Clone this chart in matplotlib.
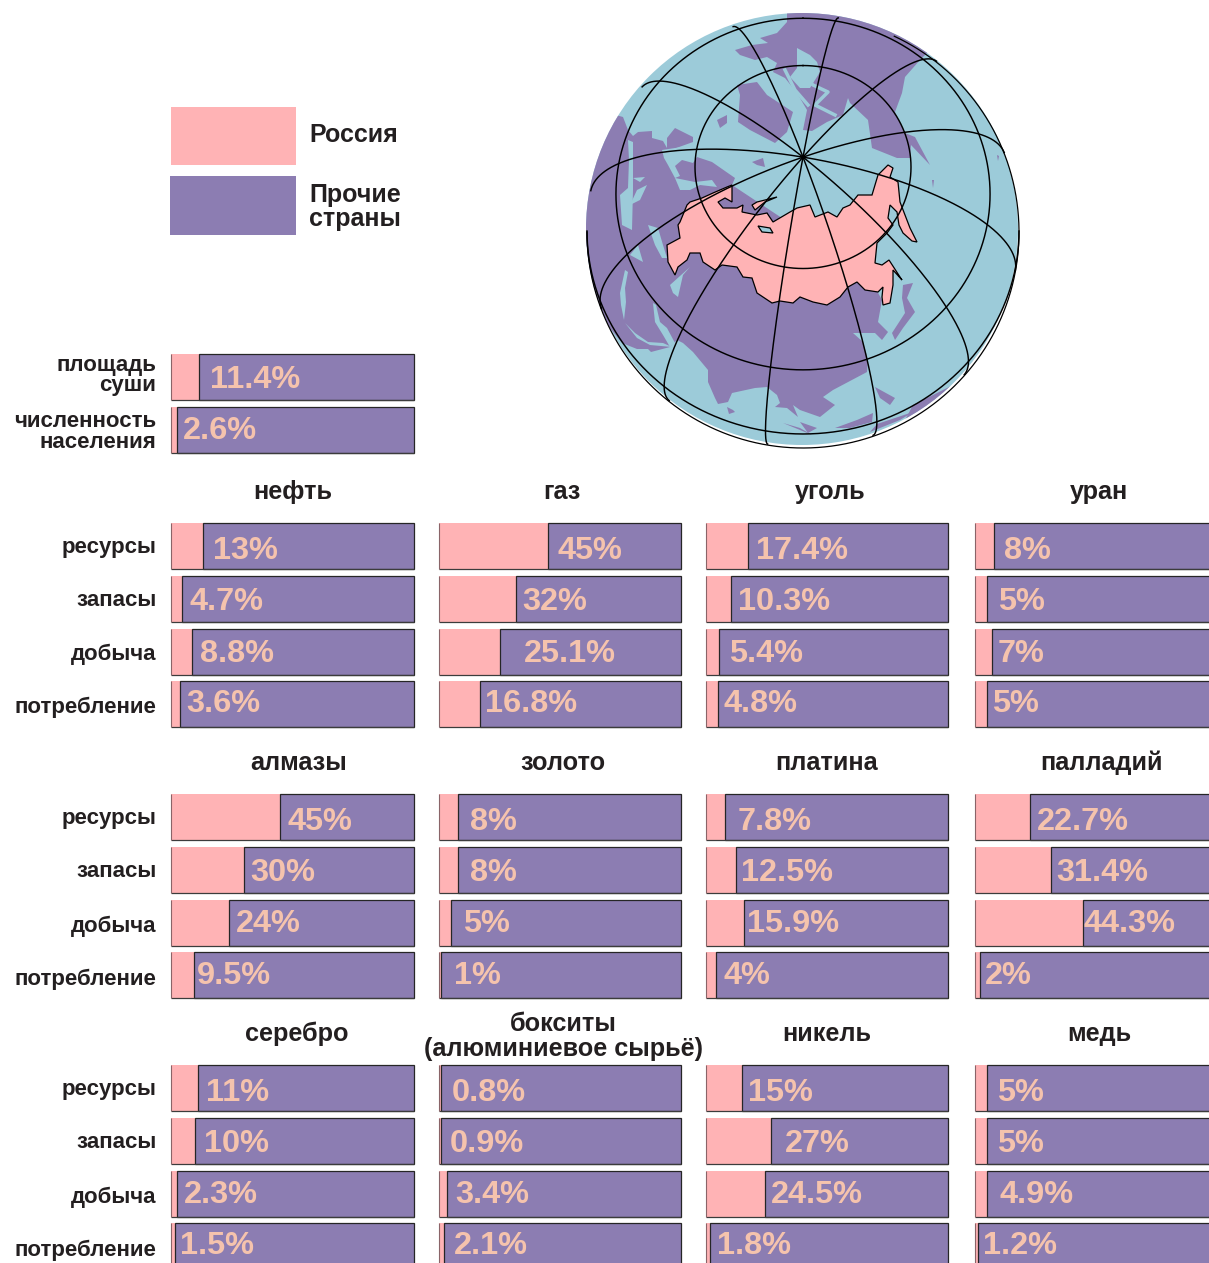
"""Russia's share of world land, people and resources: globe plus share bars."""
import numpy as np
import matplotlib
matplotlib.use('Agg')
import matplotlib.pyplot as plt
from matplotlib.patches import Circle, Polygon, Rectangle

W, H = 1209, 1263
plt.rcParams['font.family'] = ['Liberation Sans', 'DejaVu Sans']

PINK = '#FFB3B5'
PURPLE = '#8C7DB2'
SEA = '#9CCBD9'
VALUE = '#F5C3AD'
INK = '#231F20'

# --- data ---
ROWS = ['ресурсы', 'запасы', 'добыча', 'потребление']
TOP_VALUES = [11.4, 2.6]

TITLES_1 = ['нефть', 'газ', 'уголь', 'уран']
VALUES_1 = [[13, 4.7, 8.8, 3.6], [45, 32, 25.1, 16.8],
            [17.4, 10.3, 5.4, 4.8], [8, 5, 7, 5]]
TITLES_2 = ['алмазы', 'золото', 'платина', 'палладий']
VALUES_2 = [[45, 30, 24, 9.5], [8, 8, 5, 1],
            [7.8, 12.5, 15.9, 4], [22.7, 31.4, 44.3, 2]]
TITLES_3 = ['серебро', 'бокситы\n(алюминиевое сырьё)', 'никель', 'медь']
VALUES_3 = [[11, 10, 2.3, 1.5], [0.8, 0.9, 3.4, 2.1],
            [15, 27, 24.5, 1.8], [5, 5, 4.9, 1.2]]

# --- layout, in picture pixels ---
COL_X = [171, 439, 706, 975]
COL_W = [243, 242, 242, 243]
PITCH = 52.8
BLOCK_TOP = [523, 794, 1065]
TITLE_X = [[293, 562, 830, 1099], [299, 563, 827, 1101], [297, 563, 827, 1099]]
TITLE_BASE = [499, 770, 1041]
ROW_BASE = [[553, 606, 660, 713], [824, 877, 932, 985], [1095, 1148, 1203, 1256]]
VALUE_BASE = [[559, 610, 662, 712], [830, 881, 932, 984], [1101, 1152, 1203, 1254]]
# where each value label starts, from the left end of its bar
LABEL_DX = [
    [[42, 18, 29, 15], [118, 83, 85, 46], [50, 32, 23, 18], [29, 23, 23, 17]],
    [[116, 79, 65, 26], [31, 31, 24, 15], [32, 35, 41, 18], [62, 81, 109, 10]],
    [[35, 33, 13, 9], [13, 11, 16, 15], [42, 79, 65, 11], [22, 22, 24, 8]],
]

# --- globe outlines, traced in picture pixels ---
EURASIA = [(560, 100), (623, 117), (628, 130), (633, 136), (638, 132), (652, 131),
           (652, 138), (663, 141), (667, 148), (667, 138), (675, 128), (683, 132),
           (693, 137), (693, 142), (668, 151), (672, 156), (697, 157), (712, 162),
           (735, 178), (732, 185), (800, 230), (860, 260), (882, 300), (878, 322),
           (888, 332), (882, 340), (875, 333), (853, 333), (863, 342), (868, 360),
           (867, 372), (833, 390), (823, 397), (835, 405), (820, 417), (800, 410),
           (793, 405), (798, 417), (787, 408), (775, 407), (780, 403), (777, 395),
           (767, 387), (755, 388), (732, 393), (728, 402), (718, 404), (715, 398),
           (708, 382), (708, 370), (693, 352), (683, 343), (677, 340), (670, 347),
           (651, 352), (648, 349), (637, 349), (622, 343), (610, 328), (560, 330)]
N_AMERICA = [(787, 22), (777, 33), (760, 38), (768, 43), (752, 45), (735, 50), (740, 55),
             (755, 60), (767, 57), (777, 63), (773, 72), (785, 78), (797, 93), (807, 110),
             (803, 130), (812, 131), (827, 122), (843, 115), (848, 98), (850, 103),
             (868, 120), (872, 148), (897, 158), (910, 158), (911, 145), (930, 165),
             (915, 137), (905, 133), (895, 112), (902, 93), (905, 77),
             (920, 60), (930, 50), (860, 0), (787, 0)]
LAND_BITS = [
    [(737, 85), (757, 82), (767, 95), (793, 112), (790, 122), (787, 132), (775, 143),
     (750, 130), (738, 122), (740, 95)],                                # Greenland
    [(717, 120), (727, 115), (727, 123), (720, 128)],
    [(752, 162), (763, 158), (765, 167), (757, 165)],
    [(727, 407), (733, 410), (735, 412), (729, 414)],
    [(783, 423), (800, 428), (812, 435), (800, 430)],
    [(800, 422), (817, 428), (808, 433)],
    [(835, 428), (857, 420), (873, 413), (872, 422), (850, 428)],
    [(875, 387), (895, 398), (890, 405), (880, 398)],
    [(903, 285), (913, 283), (907, 298), (915, 312), (903, 328), (895, 340), (892, 333),
     (905, 313), (902, 298)],                                           # Japan
    [(913, 405), (953, 385), (945, 395), (925, 410), (905, 420)],
    [(877, 424), (913, 412), (900, 420), (870, 432)],
    [(997, 155), (999, 156), (998, 161)],
    [(932, 180), (934, 180), (933, 188)],
]
SEAS = [
    [(662, 150), (695, 145), (697, 157), (693, 163), (682, 160), (675, 166), (680, 176),
     (675, 178), (668, 165), (664, 158)],
    [(675, 178), (695, 182), (712, 180), (717, 187), (700, 185), (690, 190), (680, 190)],
    [(628, 140), (633, 142), (633, 190), (632, 230), (622, 225), (620, 195), (628, 188),
     (629, 160)],
    [(633, 178), (645, 177), (640, 182)],
    [(647, 185), (640, 200), (630, 205), (637, 190)],
    [(648, 225), (658, 228), (663, 245), (667, 258), (662, 258), (655, 245)],
    [(630, 255), (643, 262), (638, 245)],
    [(670, 285), (690, 267), (683, 275), (678, 297), (673, 293)],
    [(625, 270), (628, 272), (625, 288), (626, 302), (624, 320), (621, 305), (620, 293)],
    [(653, 303), (656, 305), (660, 322), (667, 328), (675, 343), (670, 347), (663, 335),
     (655, 322)],
    [(625, 323), (635, 333), (648, 342), (663, 343), (672, 347), (650, 345), (637, 338)],
    [(797, 48), (810, 55), (817, 62), (820, 72), (810, 88), (800, 88), (790, 77), (797, 68)],
]
CHANNELS = [[(800, 72), (813, 85), (828, 92), (815, 105), (835, 115)],
            [(785, 70), (795, 90), (808, 105)]]
RUSSIA = [(687, 205), (690, 202), (702, 198), (713, 193), (727, 187), (732, 185),
          (732, 202), (725, 198), (718, 202), (723, 208), (737, 208), (743, 205),
          (742, 212), (757, 215), (767, 213), (773, 222), (790, 212), (797, 208),
          (810, 205), (815, 217), (828, 212), (837, 217), (843, 208), (850, 205),
          (858, 195), (872, 195), (878, 175), (888, 165), (893, 168), (890, 177),
          (898, 182), (900, 202), (910, 228), (917, 242), (912, 241), (903, 233),
          (899, 225), (897, 212), (890, 205), (888, 218), (893, 225), (887, 233),
          (877, 243), (875, 263), (882, 265), (889, 260), (900, 277), (902, 280),
          (893, 270), (893, 285), (890, 303), (883, 305), (882, 297), (883, 287),
          (878, 292), (865, 290), (857, 282), (848, 287), (840, 297), (827, 305),
          (813, 302), (800, 297), (793, 303), (780, 301), (772, 303), (757, 293),
          (752, 278), (743, 277), (737, 267), (722, 265), (715, 270), (703, 262),
          (700, 253), (690, 253), (687, 260), (678, 267), (675, 275), (668, 262),
          (667, 245), (680, 238), (678, 225), (680, 222)]
NOVAYA = [(752, 205), (757, 202), (777, 197), (765, 202), (755, 210)]
INLET = [(758, 226), (770, 228), (773, 233), (762, 232)]


fig = plt.figure(figsize=(W / 100, H / 100), dpi=100)
bg = fig.add_axes([0, 0, 1, 1], zorder=1)
bg.set_xlim(0, W); bg.set_ylim(H, 0); bg.axis('off')
top = fig.add_axes([0, 0, 1, 1], zorder=5)
top.set_xlim(0, W); top.set_ylim(H, 0); top.axis('off'); top.patch.set_alpha(0)


def draw_globe(ax):
    cx, cy, r = 803, 231, 216
    disc = Circle((cx - 1, cy - 2), r, facecolor=SEA, edgecolor='none')
    ax.add_patch(disc)

    def clipped(artist):
        artist.set_clip_path(disc)

    clipped(ax.add_patch(Polygon(EURASIA, facecolor=PURPLE, edgecolor='none')))
    clipped(ax.add_patch(Polygon(N_AMERICA, facecolor=PURPLE, edgecolor='none')))
    for pts in LAND_BITS:
        clipped(ax.add_patch(Polygon(pts, facecolor=PURPLE, edgecolor='none')))
    for pts in SEAS:
        ax.add_patch(Polygon(pts, facecolor=SEA, edgecolor='none'))
    for pts in CHANNELS:
        ax.plot(*zip(*pts), color=SEA, lw=2.5)
    ax.add_patch(Polygon(RUSSIA, facecolor=PINK, edgecolor='black', lw=0.9))
    ax.add_patch(Polygon(NOVAYA, facecolor=PINK, edgecolor='black', lw=0.9))
    ax.add_patch(Polygon(INLET, facecolor=SEA, edgecolor='black', lw=0.9))

    # graticule: orthographic view centred on 70N, a meridian offset of 10 degrees
    phi0 = np.radians(70)

    def project(lat, dlon):
        x = np.cos(lat) * np.sin(dlon)
        y = np.cos(phi0) * np.sin(lat) - np.sin(phi0) * np.cos(lat) * np.cos(dlon)
        vis = np.sin(phi0) * np.sin(lat) + np.cos(phi0) * np.cos(lat) * np.cos(dlon)
        x = np.where(vis >= 0, cx + r * x, np.nan)
        y = np.where(vis >= 0, cy - r * y, np.nan)
        return x, y

    for lat_deg in [60, 30, 0]:
        dlon = np.linspace(-np.pi, np.pi, 721)
        ax.plot(*project(np.full(dlon.shape, np.radians(lat_deg)), dlon), color='black', lw=1.05)
    for k in range(12):
        lat = np.radians(np.linspace(90, -90, 361))
        ax.plot(*project(lat, np.full(lat.shape, np.radians(-10 + 30 * k))), color='black', lw=1.05)
    t = np.radians(np.linspace(-65, 180, 400))
    ax.plot(cx + r * np.cos(t), cy + 1 + r * np.sin(t), color='black', lw=0.9)


def draw_block(values, x, width, y_top, nrows):
    """One block of share bars; the x axis of each block runs 0-100 percent."""
    height = nrows * PITCH
    ax = fig.add_axes([x / W, 1 - (y_top - 3.4 + height) / H, width / W, height / H], zorder=3)
    ax.set_xlim(0, 100); ax.set_ylim(nrows - 0.5, -0.5); ax.axis('off')
    rows = np.arange(nrows)
    vals = np.array(values)
    # the pink part has no full outline: only the other countries' part is boxed
    ax.barh(rows, [100] * nrows, height=0.87, color=PINK, edgecolor='none', clip_on=False)
    ax.barh(rows, 100 - vals, left=vals, height=0.87, color=PURPLE, edgecolor='#262626', lw=0.9, clip_on=False)
    ax.hlines(rows + 0.435, 0, 100, color='#3c3c3c', lw=0.9, clip_on=False, zorder=3)
    ax.vlines(np.zeros(nrows), rows - 0.435, rows + 0.435, color='#8a6468', lw=0.8, clip_on=False, zorder=3)


def value_text(value, x, y):
    top.text(x, y, f'{value:g}%', color=VALUE, fontsize=23.4, fontweight='bold', ha='left', va='baseline')


def label_text(s, x, y, size=16, ha='right'):
    top.text(x, y, s, color=INK, fontsize=size, fontweight='bold', ha=ha, va='baseline')


draw_globe(bg)

# legend
bg.add_patch(Rectangle((171, 107), 125, 58, facecolor=PINK, edgecolor='none'))
bg.add_patch(Rectangle((170, 176), 126, 59, facecolor=PURPLE, edgecolor='none'))
label_text('Россия', 309, 142, 18, 'left')
label_text('Прочие', 309, 202, 18, 'left')
label_text('страны', 309, 226, 18, 'left')

# land and population
draw_block(TOP_VALUES, COL_X[0], COL_W[0], 354, 2)
for line, y in zip(['площадь', 'суши', 'численность', 'населения'], [371, 391, 427, 448]):
    label_text(line, 156.5, y)
value_text(TOP_VALUES[0], 210, 388)
value_text(TOP_VALUES[1], 183, 439)

# the three resource groups
GROUPS = [(TITLES_1, VALUES_1), (TITLES_2, VALUES_2), (TITLES_3, VALUES_3)]
for g, (titles, values) in enumerate(GROUPS):
    for row, name in zip(range(4), ROWS):
        label_text(name, 156.5, ROW_BASE[g][row])
    for c, (title, vals) in enumerate(zip(titles, values)):
        draw_block(vals, COL_X[c], COL_W[c], BLOCK_TOP[g], 4)
        lines = title.split('\n')
        for i, line in enumerate(reversed(lines)):
            label_text(line, TITLE_X[g][c], TITLE_BASE[g] + (15 if len(lines) > 1 else 0) - 25 * i, 18.2, 'center')
        for row, v in enumerate(vals):
            value_text(v, COL_X[c] + LABEL_DX[g][c][row], VALUE_BASE[g][row])

fig.savefig('out.png', dpi=100)
